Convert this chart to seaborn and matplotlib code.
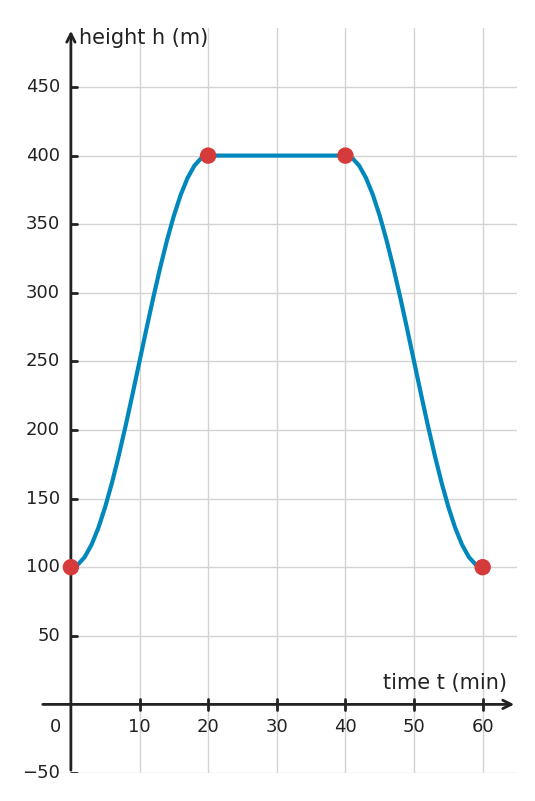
import matplotlib
matplotlib.use("Agg")
import matplotlib.pyplot as plt
import seaborn as sns
import pandas as pd

# curve (minutes, metres)
t_up = list(range(0, 21))
h_up = [100, 101.8, 107.3, 116.3, 128.6, 143.9, 161.8, 181.9, 203.6, 226.5, 250,
        273.5, 296.4, 318.1, 338.2, 356.1, 371.4, 383.7, 392.7, 398.2, 400]
t_flat = [20, 40]
h_flat = [400, 400]
t_down = list(range(40, 61))
h_down = h_up[::-1]
pts_t = [0, 20, 40, 60]
pts_h = [100, 400, 400, 100]

curve = pd.DataFrame({"t": t_up + t_flat + t_down, "h": h_up + h_flat + h_down})

sns.set_style("white")
fig = plt.figure(figsize=(5.35, 8.01), dpi=100)
ax = fig.add_axes([40/535, 28/801, 477/535, 745/801])
ax.set_xlim(-4.5, 65)
ax.set_ylim(-50, 493)

for x in range(10, 61, 10):
    ax.axvline(x, color="#d3d3d3", lw=1, zorder=0)
for y in range(50, 451, 50):
    ax.plot([0, 65], [y, y], color="#d3d3d3", lw=1, zorder=0)
ax.axhline(-50, color="#d3d3d3", lw=1, zorder=0)

sns.lineplot(data=curve, x="t", y="h", sort=False, color="#0088bd", lw=3, ax=ax, zorder=3)
sns.scatterplot(x=pts_t, y=pts_h, color="#d63b3b", s=140, edgecolor="none", ax=ax, zorder=4)

for s in ax.spines.values():
    s.set_visible(False)
ax.set_xlabel("")
ax.set_ylabel("")
ax.set_xticks([])
ax.set_yticks([])

dark = "#222222"
ax.annotate("", xy=(65, 0), xytext=(-4.5, 0),
            arrowprops=dict(arrowstyle="->", color=dark, lw=2, mutation_scale=15))
ax.annotate("", xy=(0, 493), xytext=(0, -50),
            arrowprops=dict(arrowstyle="->", color=dark, lw=2, mutation_scale=15))

for x in range(10, 61, 10):
    ax.plot([x, x], [-4, 4], color=dark, lw=2)
    ax.text(x, -10, str(x), ha="center", va="top", fontsize=13, color=dark)
ax.text(-2.3, -10, "0", ha="center", va="top", fontsize=13, color=dark)
for y in range(-50, 451, 50):
    if y == 0:
        continue
    ax.plot([0, 0.9], [y, y], color=dark, lw=2)
    lbl = "\u221250" if y < 0 else str(y)
    ax.text(-1.6, y, lbl, ha="right", va="center", fontsize=13, color=dark)

ax.text(63.5, 8, "time t (min)", ha="right", va="bottom", fontsize=15, color=dark)
ax.text(1.2, 486, "height h (m)", ha="left", va="center", fontsize=15, color=dark)

fig.savefig("out.png", dpi=100)
